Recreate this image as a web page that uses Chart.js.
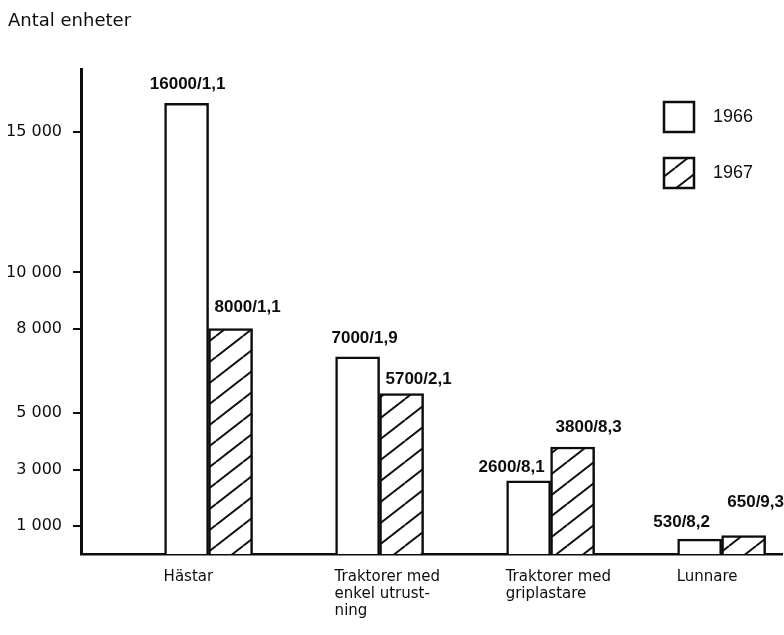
<!DOCTYPE html>
<html>
<head>
<meta charset="utf-8">
<script src="https://cdn.jsdelivr.net/npm/chart.js@4.4.0/dist/chart.umd.min.js"></script>
<style>
  html, body { margin: 0; padding: 0; background: #fff; }
</style>
</head>
<body>
<canvas id="chart" width="784" height="635"></canvas>
<script>
// data
const categories = [['Hästar'], ['Traktorer med', 'enkel utrust-', 'ning'], ['Traktorer med', 'griplastare'], ['Lunnare']]
const years = ['1966', '1967']
const units1966 = [16000, 7000, 2600, 530]
const units1967 = [8000, 5700, 3800, 650]
const ratio1966 = ['1,1', '1,9', '8,1', '8,2']
const ratio1967 = ['1,1', '2,1', '8,3', '9,3']
const yTicks = [1000, 3000, 5000, 8000, 10000, 15000]

const units = [units1966, units1967]
const ratios = [ratio1966, ratio1967]
const ink = '#0d0d0d'

const canvas = document.getElementById('chart')
const ctx = canvas.getContext('2d')

function makeHatch() {
    const c = document.createElement('canvas')
    const w = 27, h = 21
    c.width = w
    c.height = h
    const g = c.getContext('2d')
    g.fillStyle = '#fff'
    g.fillRect(0, 0, w, h)
    g.strokeStyle = ink
    g.lineWidth = 1.9
    for (const k of [-1, 0, 1]) {
        g.beginPath()
        g.moveTo(0, h + k * h)
        g.lineTo(w, k * h)
        g.stroke()
    }
    return ctx.createPattern(c, 'repeat')
}

const fmt = v => String(v).replace(/\B(?=(\d{3})+(?!\d))/g, ' ')

const barLabels = {
    id: 'barLabels',
    afterDatasetsDraw(chart, args, opts) {
        const c = chart.ctx
        c.save()
        c.font = opts.font
        c.fillStyle = ink
        c.textAlign = 'center'
        c.textBaseline = 'middle'
        chart.data.datasets.forEach((ds, i) => {
            chart.getDatasetMeta(i).data.forEach((bar, j) => {
                const [dx, dy] = opts.offsets[i][j]
                c.fillText(units[i][j] + '/' + ratios[i][j], bar.x + dx, bar.y + dy)
            })
        })
        c.restore()
    }
}

const boxLegend = {
    id: 'boxLegend',
    afterDraw(chart, args, opts) {
        const c = chart.ctx
        c.save()
        chart.data.datasets.forEach((ds, i) => {
            const y = opts.y + i * opts.gap
            c.fillStyle = ds.backgroundColor
            c.fillRect(opts.x, y, opts.size, opts.size)
            c.lineWidth = 2.5
            c.strokeStyle = ink
            c.strokeRect(opts.x, y, opts.size, opts.size)
            c.fillStyle = ink
            c.font = opts.font
            c.textAlign = 'left'
            c.textBaseline = 'middle'
            c.fillText(ds.label, opts.x + opts.size + opts.textGap, y + opts.size / 2)
        })
        c.restore()
    }
}

const fills = ['#fff', makeHatch()]

new Chart(canvas, {
    type: 'bar',
    data: {
        datasets: years.map((year, i) => ({
            label: year,
            data: units[i].map((v, j) => ({ x: j + 1, y: v })),
            backgroundColor: fills[i],
            borderColor: ink,
            borderWidth: 2.5,
            barThickness: 44
        }))
    },
    options: {
        responsive: false,
        animation: false,
        devicePixelRatio: 1,
        layout: { padding: { left: 8, right: 2, top: 0, bottom: 0 } },
        scales: {
            x: {
                type: 'linear',
                offset: false,
                min: 0.254,
                max: 4.353,
                afterBuildTicks: s => { s.ticks = categories.map((c, i) => ({ value: i + 1 - 0.263 })) },
                afterFit: s => { s.height = 81 },
                grid: { display: false, drawTicks: false },
                border: { display: true, color: ink, width: 2.5 },
                ticks: {
                    align: 'start',
                    padding: 14,
                    autoSkip: false,
                    maxRotation: 0,
                    color: ink,
                    font: { family: "'DejaVu Sans', sans-serif", size: 15, lineHeight: 1.15 },
                    callback: (v, i) => categories[i]
                }
            },
            y: {
                min: 0,
                max: 17200,
                afterBuildTicks: s => { s.ticks = yTicks.map(v => ({ value: v })) },
                afterFit: s => { s.width = 73 },
                grid: { drawOnChartArea: false, drawTicks: true, tickLength: 8, color: ink, lineWidth: 2 },
                border: { color: ink, width: 3 },
                ticks: {
                    padding: 11,
                    autoSkip: false,
                    color: ink,
                    font: { family: "'DejaVu Sans', sans-serif", size: 16 },
                    callback: v => fmt(v)
                }
            }
        },
        plugins: {
            legend: { display: false },
            tooltip: { enabled: false },
            title: {
                display: true,
                text: 'Antal enheter',
                align: 'start',
                color: ink,
                font: { family: "'DejaVu Sans', sans-serif", size: 18, weight: 'normal' },
                padding: { top: 11, bottom: 37 }
            },
            barLabels: {
                font: "bold 17px 'Liberation Sans', sans-serif",
                offsets: [
                    [[1, -19], [7, -19], [-17, -13], [-18, -17]],
                    [[17, -21], [17, -14], [16, -20], [12, -33]]
                ]
            },
            boxLegend: {
                x: 664, y: 102, size: 30, gap: 56, textGap: 19,
                font: "18px 'Liberation Sans', sans-serif"
            }
        }
    },
    plugins: [barLabels, boxLegend]
})
</script>
</body>
</html>
